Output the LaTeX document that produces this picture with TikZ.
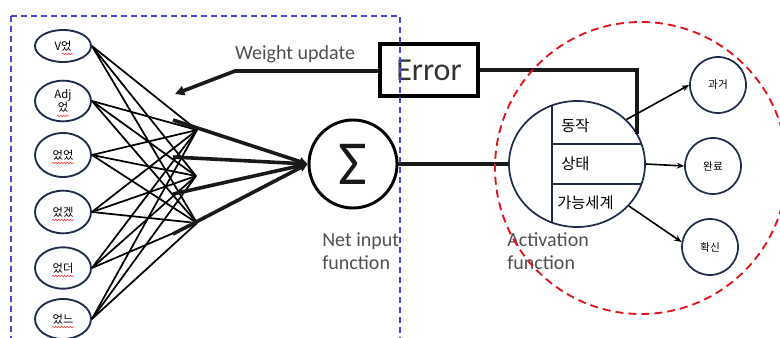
\documentclass[tikz,border=0pt]{standalone}
\usepackage{fontspec}
\setmainfont{Carlito}
\newfontfamily\kr{Noto Sans CJK KR}
\usetikzlibrary{shapes.geometric,arrows.meta,positioning,calc,decorations.pathmorphing}

\definecolor{navy}{RGB}{31,45,75}
\definecolor{labelgray}{RGB}{80,80,80}
\definecolor{boxblue}{RGB}{70,70,220}
\definecolor{ringred}{RGB}{225,20,30}

\tikzset{
  inp/.style={ellipse, draw=navy, line width=1.4pt, minimum width=42pt,
    inner sep=0pt, font=\kr\fontsize{8.5}{10}\selectfont, align=center},
  outp/.style={circle, draw=navy, line width=1.3pt, minimum size=42pt, inner sep=0pt,
    font=\kr\fontsize{8}{9}\selectfont},
  acttxt/.style={anchor=west, inner sep=0pt, font=\kr\fontsize{11.5}{12}\selectfont},
  wire/.style={line width=1.3pt},
  heavy/.style={line width=2.7pt, black!90},
  lbl/.style={font=\fontsize{15}{17.5}\selectfont, text=labelgray, align=left, inner sep=0pt},
  squig/.style={draw=red!80, line width=0.4pt, decorate,
    decoration={snake, segment length=2.2pt, amplitude=0.6pt}},
}

\begin{document}
\begin{tikzpicture}[x=0.75pt, y=-0.75pt]
    \useasboundingbox (0,0) rectangle (780,338);

    % Input nodes
    \foreach \i/\y/\h/\txt in {1/46/24/V었, 2/101/30.5/{Adj\\었}, 3/155/33/었었, 4/212/32/었겠, 5/268/31/었더, 6/319/30/었느}
        \node[inp, minimum height=\h pt] (in\i) at (63,\y) {\txt};
    \draw[squig] ($(in1)+(-1,8)$) -- ($(in1)+(10,8)$);
    \draw[squig] ($(in2)+(-6,15)$) -- ($(in2)+(6,15)$);
    \foreach \i in {3,...,6}
        \draw[squig] ($(in\i)+(-11,8)$) -- ($(in\i)+(11,8)$);

    % Hidden points
    \coordinate (c1) at (197,130);
    \coordinate (c2) at (196,176);
    \coordinate (c3) at (197,223);
    \foreach \i in {1,...,6}
        \foreach \j in {1,2,3}
            \draw[wire] (in\i.east) -- (c\j);

    % Net input function
    \node[circle, draw, line width=2.2pt, minimum size=66pt, inner sep=0pt,
        font=\fontsize{47}{47}\selectfont, text=black!90] (sum) at (353,164) {Σ};
    \foreach \k/\y in {1/120, 2/157, 3/194, 4/234} {
        \coordinate (w\k) at (173,\y);
        \draw[heavy, -{Triangle[length=6pt,width=6pt]}] (w\k) -- (sum.west);
    }
    \node[lbl, anchor=north west] (netlbl) at (322,232) {Net input\\function};

    % Activation function
    \node[ellipse, draw=navy, line width=1.3pt, minimum width=102pt, minimum height=94.5pt] (act) at (577,164) {};
    \draw[navy, line width=1pt] ($(act)+(-25,-58.6)$) -- ($(act)+(-25,58.6)$);
    \draw[navy, line width=1pt] ($(act)+(-25,-20)$) -- ($(act)+(64.3,-20)$);
    \draw[navy, line width=1pt] ($(act)+(-25,20)$) -- ($(act)+(64.3,20)$);
    \node[acttxt] (t1) at (561,126) {동작};
    \node[acttxt] (t2) at (561,164) {상태};
    \node[acttxt] (t3) at (557,203) {가능세계};
    \node[lbl, anchor=north west] (actlbl) at (507,232) {Activation\\function};
    \draw[heavy] (sum.east) -- (act.west);

    % Error and weight update
    \node[draw, line width=2.4pt, minimum width=73.5pt, minimum height=39pt, inner sep=0pt,
        font=\fontsize{24}{24}\selectfont, text=black!80] (err) at (429,70) {Error};
    \coordinate (fb) at ($(act)+(60,-29.6)$);
    \draw[heavy] (err.east) -| (fb);
    \coordinate (knee) at (235,71);
    \coordinate (wtip) at (175,94);
    \draw[heavy, -{Triangle[length=7pt,width=7pt]}] (err.west |- knee) -- (knee) -- (wtip);
    \node[lbl] (wu) at (295,54) {Weight update};

    % Outputs
    \node[outp] (out1) at (718,85) {과거};
    \node[outp] (out2) at (713,166) {완료};
    \node[outp] (out3) at (710,247) {확신};
    \draw[line width=1.2pt, -{Stealth[length=5.5pt,width=4.5pt]}] (act.42) -- (out1.west);
    \draw[line width=1.2pt, -{Stealth[length=5.5pt,width=4.5pt]}] (act.east) -- (out2.west);
    \draw[line width=1.2pt, -{Stealth[length=5.5pt,width=4.5pt]}] (act.-39) -- (out3.170);

    % Dashed frames
    \draw[boxblue, line width=0.8pt, dash pattern=on 4.5pt off 3pt] (11,16) rectangle (400,360);
    \draw[ringred, line width=1.4pt, dash pattern=on 6pt off 3.75pt] (641,168) circle[radius=146];
\end{tikzpicture}
\end{document}
